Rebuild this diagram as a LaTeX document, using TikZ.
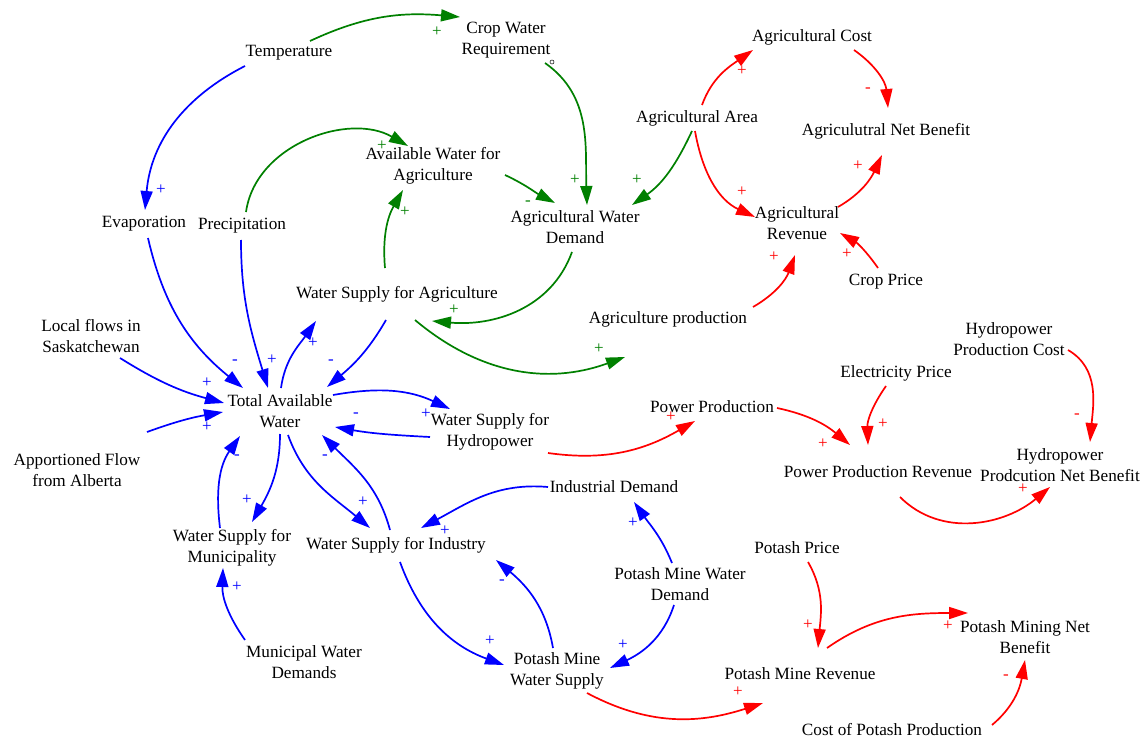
\documentclass[tikz,border=0pt]{standalone}
\usepackage{fontspec}
\setmainfont{Liberation Serif}
\usetikzlibrary{arrows.meta}
\definecolor{lnkblue}{RGB}{0,0,255}
\definecolor{lnkgreen}{RGB}{0,128,0}
\definecolor{lnkred}{RGB}{255,0,0}
\tikzset{
  var/.style={align=center, inner sep=1pt, text=black, font=\fontsize{17.2}{21}\selectfont},
  lnk/.style={line width=1.7pt, -{Triangle[length=19pt,width=12pt]}},
  bl/.style={lnk, draw=lnkblue},
  gr/.style={lnk, draw=lnkgreen},
  rd/.style={lnk, draw=lnkred},
  sgn/.style={inner sep=0pt, font=\fontsize{17}{17}\selectfont},
  sb/.style={sgn, text=lnkblue},
  sg/.style={sgn, text=lnkgreen},
  sr/.style={sgn, text=lnkred},
}
\begin{document}
\begin{tikzpicture}[x=1pt,y=1pt]
\fill[white] (0,-741) rectangle (1146,0);
\useasboundingbox (0,-741) rectangle (1146,0);

% ---------- variables ----------
\node[var] (temp)    at (289,-53)  {Temperature};
\node[var] (cwr)     at (506,-40)  {Crop Water\\Requirement};
\node[var] (acost)   at (812,-37)  {Agricultural Cost};
\node[var] (aarea)   at (697,-118) {Agricultural Area};
\node[var] (anb)     at (886,-131) {Agriculutral Net Benefit};
\node[var] (awa)     at (433,-166) {Available Water for\\Agriculture};
\node[var] (awd)     at (575,-227) {Agricultural Water\\Demand};
\node[var] (arev)    at (797,-223) {Agricultural\\Revenue};
\node[var] (evap)    at (144,-224) {Evaporation};
\node[var] (prec)    at (242,-226) {Precipitation};
\node[var] (cprice)  at (886,-282) {Crop Price};
\node[var] (wsa)     at (397,-294) {Water Supply for Agriculture};
\node[var] (aprod)   at (668,-319) {Agriculture production};
\node[var] (local)   at (91,-336)  {Local flows in\\Saskatchewan};
\node[var] (hpc)     at (1009,-339){Hydropower\\Production Cost};
\node[var] (eprice)  at (896,-373) {Electricity Price};
\node[var] (taw)     at (280,-411) {Total Available\\Water};
\node[var] (wsh)     at (490,-432) {Water Supply for\\Hydropower};
\node[var] (pp)      at (712,-407) {Power Production};
\node[var] (ppr)     at (878,-472) {Power Production Revenue};
\node[var] (hnb)     at (1060,-465){Hydropower\\Prodcution Net Benefit};
\node[var] (alberta) at (77,-470)  {Apportioned Flow\\from Alberta};
\node[var] (idem)    at (614,-487) {Industrial Demand};
\node[var] (wsm)     at (232,-548) {Water Supply for\\Municipality};
\node[var] (wsi)     at (396,-545) {Water Supply for Industry};
\node[var] (pprice)  at (797,-548) {Potash Price};
\node[var] (pmwd)    at (680,-584) {Potash Mine Water\\Demand};
\node[var] (pmnb)    at (1025,-637){Potash Mining Net\\Benefit};
\node[var] (mwd)     at (304,-662) {Municipal Water\\Demands};
\node[var] (pmws)    at (557,-671) {Potash Mine\\Water Supply};
\node[var] (pmr)     at (800,-674) {Potash Mine Revenue};
\node[var] (cpp)     at (892,-730) {Cost of Potash Production};

% ---------- water balance links (blue) ----------
\draw[bl] ([shift={(-44,-13)}]temp.center) to[out=207,in=85] ([shift={(1,14)}]evap.center);
\draw[bl] ([shift={(4,-14)}]evap.center) to[out=283,in=141] ([shift={(-37,23)}]taw.center);
\draw[bl] ([shift={(-1,-14)}]prec.center) to[out=270,in=107] ([shift={(-12,23)}]taw.center);
\draw[bl] ([shift={(29,-22)}]local.center) to[out=-32,in=165] ([shift={(-56,8)}]taw.center);
\draw[bl] ([shift={(70,38)}]alberta.center) to[out=20,in=190] ([shift={(-57,-1)}]taw.center);
\draw[bl] ([shift={(1,23)}]taw.center) to[out=82,in=235] ([shift={(-81,-27)}]wsa.center);
\draw[bl] ([shift={(-11,-26)}]wsa.center) to[out=240,in=40] ([shift={(47,24)}]taw.center);
\draw[bl] ([shift={(53,16)}]taw.center) to[out=10,in=155] ([shift={(-40,23)}]wsh.center);
\draw[bl] ([shift={(-60,-5)}]wsh.center) to[out=177,in=-10] ([shift={(55,-16)}]taw.center);
\draw[bl] ([shift={(8,-24)}]taw.center) to[out=290,in=140] ([shift={(-26,17)}]wsi.center);
\draw[bl] ([shift={(-6,15)}]wsi.center) to[out=105,in=-45] ([shift={(42,-24)}]taw.center);
\draw[bl] ([shift={(0,-23)}]taw.center) to[out=270,in=60] ([shift={(20,26)}]wsm.center);
\draw[bl] ([shift={(-12,20)}]wsm.center) to[out=97,in=235] ([shift={(-40,-25)}]taw.center);
\draw[bl] ([shift={(-59,22)}]mwd.center) to[out=125,in=268] ([shift={(-9,-20)}]wsm.center);
\draw[bl] ([shift={(-66,0)}]idem.center) to[out=175,in=28] ([shift={(25,17)}]wsi.center);
\draw[bl] ([shift={(4,-17)}]wsi.center) to[out=290,in=160] ([shift={(-53,6)}]pmws.center);
\draw[bl] ([shift={(-4,23)}]pmws.center) to[out=100,in=-40] ([shift={(100,-15)}]wsi.center);
\draw[bl] ([shift={(-8,21)}]pmwd.center) to[out=112,in=-55] ([shift={(20,-15)}]idem.center);
\draw[bl] ([shift={(-6,-21)}]pmwd.center) to[out=252,in=25] ([shift={(53,3)}]pmws.center);

% ---------- agriculture links (green) ----------
\draw[gr] ([shift={(21,12)}]temp.center) to[out=25,in=175] ([shift={(-46,23)}]cwr.center);
\draw[gr] ([shift={(39,-23)}]cwr.center) to[out=-35,in=92] ([shift={(12,22)}]awd.center);
\node[draw=black, circle, inner sep=0pt, minimum size=4pt, line width=0.5pt] (cwrdot) at ([shift={(46,-22)}]cwr.center) {};
\draw[gr] ([shift={(4,14)}]prec.center) to[out=82,in=150] ([shift={(-25,20)}]awa.center);
\draw[gr] ([shift={(-12,26)}]wsa.center) to[out=95,in=240] ([shift={(-30,-24)}]awa.center);
\draw[gr] ([shift={(72,-9)}]awa.center) to[out=-25,in=152] ([shift={(-20,24)}]awd.center);
\draw[gr] ([shift={(-5,-13)}]aarea.center) to[out=245,in=35] ([shift={(57,22)}]awd.center);
\draw[gr] ([shift={(-3,-25)}]awd.center) to[out=250,in=355] ([shift={(35,-27)}]wsa.center);
\draw[gr] ([shift={(18,-26)}]wsa.center) to[out=-40,in=200] ([shift={(-43,-38)}]aprod.center);

% ---------- economic links (red) ----------
\draw[rd] ([shift={(5,13)}]aarea.center) to[out=70,in=215] ([shift={(-59,-13)}]acost.center);
\draw[rd] ([shift={(42,-13)}]acost.center) to[out=-35,in=95] ([shift={(2,23)}]anb.center);
\draw[rd] ([shift={(-2,-13)}]aarea.center) to[out=280,in=155] ([shift={(-42,6)}]arev.center);
\draw[rd] ([shift={(41,16)}]arev.center) to[out=30,in=245] ([shift={(-4,-24)}]anb.center);
\draw[rd] ([shift={(-8,14)}]cprice.center) to[out=125,in=-30] ([shift={(43,-10)}]arev.center);
\draw[rd] ([shift={(85,12)}]aprod.center) to[out=30,in=250] ([shift={(-2,-32)}]arev.center);
\draw[rd] ([shift={(58,-21)}]wsh.center) to[out=-8,in=210] ([shift={(-17,-14)}]pp.center);
\draw[rd] ([shift={(65,-1)}]pp.center) to[out=-12,in=140] ([shift={(-28,27)}]ppr.center);
\draw[rd] ([shift={(-10,-13)}]eprice.center) to[out=235,in=92] ([shift={(-10,27)}]ppr.center);
\draw[rd] ([shift={(59,-11)}]hpc.center) to[out=-30,in=85] ([shift={(30,23)}]hnb.center);
\draw[rd] ([shift={(22,-25)}]ppr.center) to[out=-45,in=220] ([shift={(-10,-22)}]hnb.center);
\draw[rd] ([shift={(11,-14)}]pprice.center) to[out=-60,in=85] ([shift={(18,26)}]pmr.center);
\draw[rd] ([shift={(27,26)}]pmr.center) to[out=35,in=180] ([shift={(-57,24)}]pmnb.center);
\draw[rd] ([shift={(100,5)}]cpp.center) to[out=40,in=260] ([shift={(0,-23)}]pmnb.center);
\draw[rd] ([shift={(30,-22)}]pmws.center) to[out=-28,in=198] ([shift={(-37,-29)}]pmr.center);

% ---------- polarity signs ----------
\node[sb] (b1)  at (161,-190) {+};
\node[sb] (b2)  at (235,-362) {-};
\node[sb] (b3)  at (272,-360) {+};
\node[sb] (b4)  at (207,-383) {+};
\node[sb] (b5)  at (207,-427) {+};
\node[sb] (b6)  at (313,-343) {+};
\node[sb] (b7)  at (331,-362) {-};
\node[sb] (b8)  at (426,-414) {+};
\node[sb] (b9)  at (356,-415) {-};
\node[sb] (b10) at (363,-502) {+};
\node[sb] (b11) at (325,-457) {-};
\node[sb] (b12) at (247,-500) {+};
\node[sb] (b13) at (237,-457) {-};
\node[sb] (b14) at (237,-587) {+};
\node[sb] (b15) at (445,-531) {+};
\node[sb] (b16) at (490,-641) {+};
\node[sb] (b17) at (502,-582) {-};
\node[sb] (b18) at (633,-523) {+};
\node[sb] (b19) at (623,-645) {+};

\node[sg] (g1) at (437,-32)  {+};
\node[sg] (g2) at (575,-180) {+};
\node[sg] (g3) at (382,-146) {+};
\node[sg] (g4) at (405,-212) {+};
\node[sg] (g5) at (528,-203) {-};
\node[sg] (g6) at (637,-180) {+};
\node[sg] (g7) at (454,-310) {+};
\node[sg] (g8) at (599,-349) {+};

\node[sr] (r1)  at (742,-71)  {+};
\node[sr] (r2)  at (868,-90)  {-};
\node[sr] (r3)  at (742,-192) {+};
\node[sr] (r4)  at (858,-166) {+};
\node[sr] (r5)  at (847,-254) {+};
\node[sr] (r6)  at (774,-257) {+};
\node[sr] (r7)  at (671,-417) {+};
\node[sr] (r8)  at (823,-444) {+};
\node[sr] (r9)  at (883,-424) {+};
\node[sr] (r10) at (1077,-416) {-};
\node[sr] (r11) at (1023,-489) {+};
\node[sr] (r12) at (808,-625) {+};
\node[sr] (r13) at (948,-626) {+};
\node[sr] (r14) at (1006,-677) {-};
\node[sr] (r15) at (738,-692) {+};
\end{tikzpicture}
\end{document}
